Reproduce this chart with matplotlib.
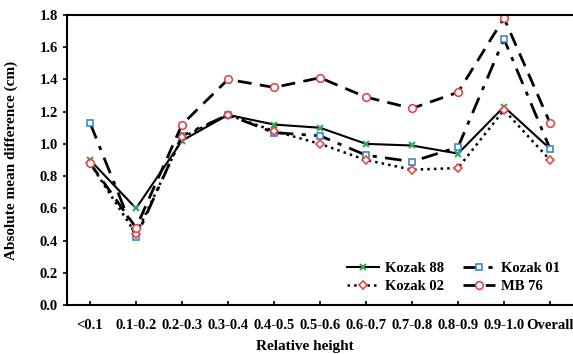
import numpy as np
import matplotlib.pyplot as plt

plt.rcParams['font.family'] = ['Liberation Serif', 'DejaVu Serif']
plt.rcParams['font.weight'] = 'bold'

# categories and series values
categories = ['<0.1', '0.1-0.2', '0.2-0.3', '0.3-0.4', '0.4-0.5', '0.5-0.6',
              '0.6-0.7', '0.7-0.8', '0.8-0.9', '0.9-1.0', 'Overall']
kozak88 = [0.90, 0.60, 1.02, 1.18, 1.12, 1.10, 1.00, 0.99, 0.94, 1.23, 0.97]
kozak01 = [1.13, 0.42, 1.05, 1.18, 1.07, 1.05, 0.93, 0.89, 0.98, 1.65, 0.97]
kozak02 = [0.88, 0.44, 1.04, 1.18, 1.08, 1.00, 0.90, 0.84, 0.85, 1.21, 0.90]
mb76    = [0.88, 0.48, 1.12, 1.40, 1.35, 1.41, 1.29, 1.22, 1.32, 1.78, 1.13]

red = '#e04848'
blue = '#3a8ac8'
green = '#2eaa5a'

fig = plt.figure(figsize=(5.73, 3.54), dpi=100)
ax = fig.add_axes([0.117, 0.138, 0.883, 0.82])

x = np.arange(len(categories))

l88, = ax.plot(x, kozak88, color='black', lw=1.5, ls='-', marker='x', ms=5,
               mec=green, mew=1.5, label='Kozak 88')
l01, = ax.plot(x, kozak01, color='black', lw=2, ls=(0, (6, 3, 1.5, 3)), marker='s', ms=5,
               mfc='white', mec=blue, mew=1.2, label='Kozak 01')
l02, = ax.plot(x, kozak02, color='black', lw=1.8, ls=':', marker='D', ms=4,
               mfc='white', mec=red, mew=1.2, label='Kozak 02')
l76, = ax.plot(x, mb76, color='black', lw=2, ls=(0, (5, 3)), marker='o', ms=5.5,
               mfc='white', mec=red, mew=1.2, label='MB 76')

ax.set_xlim(-0.5, 10.5)
ax.set_ylim(0, 1.8)
yt = np.arange(0, 1.81, 0.2)
ax.set_yticks(yt)
ax.set_yticklabels(['%.1f' % v for v in yt])
ax.set_xticks(x)
ax.set_xticklabels(categories)

ax.tick_params(axis='y', direction='out', length=3, width=1.2, labelsize=10.5)
ax.tick_params(axis='x', direction='in', length=3, width=1.2, labelsize=10.5, pad=10)

ax.spines['right'].set_visible(False)
for s in ['left', 'bottom', 'top']:
    ax.spines[s].set_linewidth(1.5)

ax.set_ylabel('Absolute mean difference (cm)', fontsize=11, fontweight='bold')
ax.yaxis.set_label_coords(-0.097, 0.5)
ax.set_xlabel('Relative height', fontsize=11, fontweight='bold')
ax.xaxis.set_label_coords(0.47, -0.12)

# row-wise order: Kozak 88, Kozak 01 / Kozak 02, MB 76
ax.legend([l88, l02, l01, l76], ['Kozak 88', 'Kozak 02', 'Kozak 01', 'MB 76'],
          loc='lower right', ncol=2, frameon=False, fontsize=10.5,
          handlelength=2.2, columnspacing=1.3, handletextpad=0.4,
          labelspacing=0.35, bbox_to_anchor=(1.0, -0.005))

fig.savefig('out.png', dpi=100)
